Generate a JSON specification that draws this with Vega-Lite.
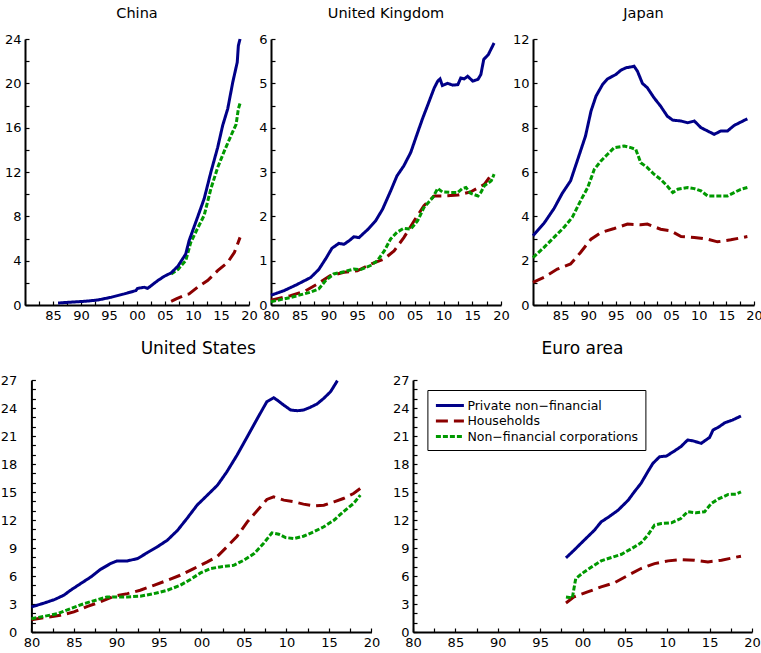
{
  "$schema": "https://vega.github.io/schema/vega-lite/v6.json",
  "padding": {"left": 0, "top": 6, "right": 0, "bottom": 0},
  "config": {
    "view": {"stroke": null},
    "font": "DejaVu Sans",
    "axis": {"domainColor": "#000", "domainWidth": 2, "tickColor": "#000", "tickWidth": 1.2, "tickSize": -4, "labelPadding": 8, "labelFont": "DejaVu Sans", "labelFontSize": 13, "labelColor": "#000", "grid": false, "title": null, "labelOverlap": false, "labelFlush": false, "labelBound": false},
    "title": {"font": "DejaVu Sans", "fontWeight": "normal", "color": "#000", "frame": "group", "anchor": "middle", "baseline": "alphabetic"},
    "line": {"strokeWidth": 3, "clip": true}
  },
  "datasets": {
    "china": [
      {"s":"H","t":2006.1,"v":0.33},{"s":"H","t":2007,"v":0.55},{"s":"H","t":2008.7,"v":0.93},{"s":"H","t":2009.3,"v":1.0},{"s":"H","t":2010.8,"v":1.6},{"s":"H","t":2012.6,"v":2.2},{"s":"H","t":2014.4,"v":3.1},{"s":"H","t":2016.2,"v":3.85},{"s":"H","t":2017.4,"v":4.75},{"s":"H","t":2018.4,"v":6.1},
      {"s":"N","t":2006.1,"v":2.8},{"s":"N","t":2007.3,"v":3.2},{"s":"N","t":2008.7,"v":4.0},{"s":"N","t":2009.6,"v":5.65},{"s":"N","t":2010.8,"v":6.9},{"s":"N","t":2012,"v":8.1},{"s":"N","t":2013.2,"v":10.5},{"s":"N","t":2014.4,"v":12.4},{"s":"N","t":2015.6,"v":13.9},{"s":"N","t":2016.8,"v":15.3},{"s":"N","t":2017.7,"v":16.3},{"s":"N","t":2018.1,"v":17.7},{"s":"N","t":2018.4,"v":18.2},
      {"s":"P","t":1985.9,"v":0.18},{"s":"P","t":1988,"v":0.25},{"s":"P","t":1990.6,"v":0.33},{"s":"P","t":1993,"v":0.45},{"s":"P","t":1995.4,"v":0.7},{"s":"P","t":1997.7,"v":1.0},{"s":"P","t":1999.8,"v":1.3},{"s":"P","t":2000.1,"v":1.5},{"s":"P","t":2001.3,"v":1.6},{"s":"P","t":2001.9,"v":1.5},{"s":"P","t":2003.7,"v":2.2},{"s":"P","t":2004.9,"v":2.6},{"s":"P","t":2006.1,"v":2.9},{"s":"P","t":2007.3,"v":3.5},{"s":"P","t":2008.7,"v":4.6},{"s":"P","t":2009.3,"v":5.8},{"s":"P","t":2010.8,"v":7.9},{"s":"P","t":2012,"v":9.6},{"s":"P","t":2013.2,"v":12.0},{"s":"P","t":2014.4,"v":14.2},{"s":"P","t":2015.3,"v":16.2},{"s":"P","t":2016.2,"v":17.7},{"s":"P","t":2017.1,"v":20.1},{"s":"P","t":2017.9,"v":21.9},{"s":"P","t":2018.1,"v":23.4},{"s":"P","t":2018.4,"v":24.0}
    ],
    "uk": [
      {"s":"H","t":1980,"v":0.11},{"s":"H","t":1983.4,"v":0.21},{"s":"H","t":1986,"v":0.32},{"s":"H","t":1988,"v":0.47},{"s":"H","t":1990.3,"v":0.66},{"s":"H","t":1992.7,"v":0.74},{"s":"H","t":1995,"v":0.77},{"s":"H","t":1997.3,"v":0.92},{"s":"H","t":1999.7,"v":1.04},{"s":"H","t":2001.4,"v":1.22},{"s":"H","t":2003.1,"v":1.52},{"s":"H","t":2004.9,"v":1.9},{"s":"H","t":2006.6,"v":2.24},{"s":"H","t":2008.4,"v":2.46},{"s":"H","t":2010.1,"v":2.46},{"s":"H","t":2012.5,"v":2.48},{"s":"H","t":2014.7,"v":2.55},{"s":"H","t":2017.1,"v":2.72},{"s":"H","t":2018.6,"v":2.99},
      {"s":"N","t":1980,"v":0.075},{"s":"N","t":1983.4,"v":0.17},{"s":"N","t":1986.9,"v":0.29},{"s":"N","t":1988.3,"v":0.36},{"s":"N","t":1989.5,"v":0.55},{"s":"N","t":1990.9,"v":0.7},{"s":"N","t":1992.7,"v":0.75},{"s":"N","t":1994.4,"v":0.81},{"s":"N","t":1995.6,"v":0.8},{"s":"N","t":1997.3,"v":0.89},{"s":"N","t":1998.5,"v":1.0},{"s":"N","t":1999.7,"v":1.22},{"s":"N","t":2000.8,"v":1.49},{"s":"N","t":2001.9,"v":1.64},{"s":"N","t":2003.1,"v":1.73},{"s":"N","t":2004.3,"v":1.71},{"s":"N","t":2005.5,"v":1.9},{"s":"N","t":2006.6,"v":2.2},{"s":"N","t":2008.1,"v":2.42},{"s":"N","t":2009,"v":2.63},{"s":"N","t":2009.8,"v":2.55},{"s":"N","t":2011.3,"v":2.54},{"s":"N","t":2012.5,"v":2.54},{"s":"N","t":2013.3,"v":2.63},{"s":"N","t":2013.9,"v":2.65},{"s":"N","t":2014.7,"v":2.52},{"s":"N","t":2016,"v":2.46},{"s":"N","t":2016.5,"v":2.54},{"s":"N","t":2017.1,"v":2.69},{"s":"N","t":2018.3,"v":2.8},{"s":"N","t":2018.8,"v":2.95},
      {"s":"P","t":1980,"v":0.22},{"s":"P","t":1982.2,"v":0.32},{"s":"P","t":1984.5,"v":0.46},{"s":"P","t":1986.9,"v":0.62},{"s":"P","t":1988.3,"v":0.8},{"s":"P","t":1989.5,"v":1.04},{"s":"P","t":1990.6,"v":1.28},{"s":"P","t":1991.8,"v":1.39},{"s":"P","t":1992.7,"v":1.37},{"s":"P","t":1993.8,"v":1.47},{"s":"P","t":1994.4,"v":1.54},{"s":"P","t":1995.3,"v":1.52},{"s":"P","t":1996.8,"v":1.7},{"s":"P","t":1998.2,"v":1.9},{"s":"P","t":1999.4,"v":2.16},{"s":"P","t":2000.8,"v":2.57},{"s":"P","t":2001.9,"v":2.91},{"s":"P","t":2003.1,"v":3.14},{"s":"P","t":2004.3,"v":3.44},{"s":"P","t":2005.5,"v":3.89},{"s":"P","t":2006.4,"v":4.22},{"s":"P","t":2007.2,"v":4.49},{"s":"P","t":2008.4,"v":4.9},{"s":"P","t":2009,"v":5.05},{"s":"P","t":2009.4,"v":5.1},{"s":"P","t":2009.8,"v":4.95},{"s":"P","t":2010.7,"v":5.0},{"s":"P","t":2011.6,"v":4.96},{"s":"P","t":2012.5,"v":4.97},{"s":"P","t":2013,"v":5.12},{"s":"P","t":2013.6,"v":5.1},{"s":"P","t":2014.2,"v":5.16},{"s":"P","t":2015.1,"v":5.05},{"s":"P","t":2016,"v":5.09},{"s":"P","t":2016.5,"v":5.2},{"s":"P","t":2017,"v":5.54},{"s":"P","t":2017.8,"v":5.65},{"s":"P","t":2018.8,"v":5.91}
    ],
    "japan": [
      {"s":"H","t":1980,"v":1.02},{"s":"H","t":1982,"v":1.25},{"s":"H","t":1984.4,"v":1.62},{"s":"H","t":1986.8,"v":1.85},{"s":"H","t":1988.6,"v":2.37},{"s":"H","t":1990.5,"v":2.97},{"s":"H","t":1992.3,"v":3.27},{"s":"H","t":1994.7,"v":3.45},{"s":"H","t":1997.1,"v":3.65},{"s":"H","t":1999.5,"v":3.62},{"s":"H","t":2000.7,"v":3.65},{"s":"H","t":2003.1,"v":3.42},{"s":"H","t":2004.9,"v":3.35},{"s":"H","t":2006.8,"v":3.09},{"s":"H","t":2009.2,"v":3.05},{"s":"H","t":2011.6,"v":2.97},{"s":"H","t":2013.4,"v":2.85},{"s":"H","t":2015.8,"v":2.94},{"s":"H","t":2018.8,"v":3.09},
      {"s":"N","t":1980,"v":2.14},{"s":"N","t":1982,"v":2.6},{"s":"N","t":1983.8,"v":3.05},{"s":"N","t":1985.6,"v":3.5},{"s":"N","t":1987.1,"v":3.95},{"s":"N","t":1988.6,"v":4.7},{"s":"N","t":1989.9,"v":5.3},{"s":"N","t":1991.1,"v":6.12},{"s":"N","t":1992.3,"v":6.5},{"s":"N","t":1993.5,"v":6.8},{"s":"N","t":1994.7,"v":7.1},{"s":"N","t":1996.5,"v":7.17},{"s":"N","t":1997.7,"v":7.1},{"s":"N","t":1998.6,"v":7.02},{"s":"N","t":1999.5,"v":6.42},{"s":"N","t":2000.7,"v":6.2},{"s":"N","t":2001.9,"v":5.9},{"s":"N","t":2003.1,"v":5.67},{"s":"N","t":2004.3,"v":5.37},{"s":"N","t":2005.3,"v":5.07},{"s":"N","t":2006.2,"v":5.22},{"s":"N","t":2008,"v":5.3},{"s":"N","t":2009.2,"v":5.25},{"s":"N","t":2010.4,"v":5.15},{"s":"N","t":2011.6,"v":4.92},{"s":"N","t":2013.4,"v":4.92},{"s":"N","t":2015.2,"v":4.92},{"s":"N","t":2016.4,"v":5.07},{"s":"N","t":2017.6,"v":5.22},{"s":"N","t":2018.8,"v":5.3},
      {"s":"P","t":1980,"v":3.12},{"s":"P","t":1982,"v":3.69},{"s":"P","t":1983.8,"v":4.35},{"s":"P","t":1985.3,"v":5.04},{"s":"P","t":1986.8,"v":5.6},{"s":"P","t":1988.3,"v":6.72},{"s":"P","t":1989.5,"v":7.62},{"s":"P","t":1990.5,"v":8.75},{"s":"P","t":1991.4,"v":9.42},{"s":"P","t":1992.6,"v":9.95},{"s":"P","t":1993.5,"v":10.2},{"s":"P","t":1995,"v":10.4},{"s":"P","t":1995.9,"v":10.59},{"s":"P","t":1996.8,"v":10.7},{"s":"P","t":1997.7,"v":10.74},{"s":"P","t":1998.3,"v":10.77},{"s":"P","t":1998.9,"v":10.55},{"s":"P","t":1999.8,"v":10.0},{"s":"P","t":2000.7,"v":9.8},{"s":"P","t":2001.9,"v":9.35},{"s":"P","t":2003.1,"v":8.97},{"s":"P","t":2004.3,"v":8.52},{"s":"P","t":2005.3,"v":8.34},{"s":"P","t":2006.8,"v":8.3},{"s":"P","t":2008,"v":8.22},{"s":"P","t":2009.2,"v":8.3},{"s":"P","t":2010.4,"v":8.0},{"s":"P","t":2011.6,"v":7.85},{"s":"P","t":2012.8,"v":7.7},{"s":"P","t":2014,"v":7.85},{"s":"P","t":2015.2,"v":7.85},{"s":"P","t":2016.4,"v":8.1},{"s":"P","t":2017.6,"v":8.25},{"s":"P","t":2018.8,"v":8.4}
    ],
    "us": [
      {"s":"H","t":1980,"v":1.32},{"s":"H","t":1981.5,"v":1.54},{"s":"H","t":1983.4,"v":1.79},{"s":"H","t":1985,"v":2.15},{"s":"H","t":1986.6,"v":2.75},{"s":"H","t":1988.1,"v":3.22},{"s":"H","t":1989.7,"v":3.83},{"s":"H","t":1991.3,"v":4.11},{"s":"H","t":1992.8,"v":4.47},{"s":"H","t":1994.4,"v":5.0},{"s":"H","t":1996,"v":5.54},{"s":"H","t":1997.5,"v":6.08},{"s":"H","t":1999.1,"v":6.8},{"s":"H","t":2000.7,"v":7.51},{"s":"H","t":2001.9,"v":8.12},{"s":"H","t":2003,"v":9.12},{"s":"H","t":2004.2,"v":10.26},{"s":"H","t":2005.4,"v":11.8},{"s":"H","t":2006.6,"v":13.05},{"s":"H","t":2007.7,"v":14.2},{"s":"H","t":2008.5,"v":14.48},{"s":"H","t":2009.7,"v":14.13},{"s":"H","t":2010.9,"v":13.95},{"s":"H","t":2012,"v":13.7},{"s":"H","t":2013.2,"v":13.52},{"s":"H","t":2014.4,"v":13.59},{"s":"H","t":2015.6,"v":13.95},{"s":"H","t":2016.7,"v":14.3},{"s":"H","t":2017.9,"v":14.84},{"s":"H","t":2018.7,"v":15.38},
      {"s":"N","t":1980,"v":1.43},{"s":"N","t":1981.5,"v":1.68},{"s":"N","t":1983.1,"v":1.97},{"s":"N","t":1984.6,"v":2.5},{"s":"N","t":1986.2,"v":3.04},{"s":"N","t":1987.8,"v":3.47},{"s":"N","t":1988.9,"v":3.76},{"s":"N","t":1990.1,"v":3.76},{"s":"N","t":1991.3,"v":3.76},{"s":"N","t":1992.8,"v":3.83},{"s":"N","t":1994.4,"v":4.11},{"s":"N","t":1996,"v":4.47},{"s":"N","t":1997.5,"v":5.0},{"s":"N","t":1998.7,"v":5.62},{"s":"N","t":1999.9,"v":6.33},{"s":"N","t":2001.1,"v":6.8},{"s":"N","t":2002.2,"v":6.97},{"s":"N","t":2003.8,"v":7.15},{"s":"N","t":2005,"v":7.69},{"s":"N","t":2006.2,"v":8.4},{"s":"N","t":2007.3,"v":9.48},{"s":"N","t":2008.3,"v":10.62},{"s":"N","t":2009.1,"v":10.48},{"s":"N","t":2009.9,"v":10.12},{"s":"N","t":2010.9,"v":10.01},{"s":"N","t":2012,"v":10.26},{"s":"N","t":2013.2,"v":10.73},{"s":"N","t":2014.4,"v":11.27},{"s":"N","t":2015.6,"v":11.98},{"s":"N","t":2016.7,"v":12.88},{"s":"N","t":2017.9,"v":13.77},{"s":"N","t":2018.7,"v":14.66},
      {"s":"P","t":1980,"v":2.68},{"s":"P","t":1981.5,"v":3.1},{"s":"P","t":1982.7,"v":3.47},{"s":"P","t":1983.8,"v":3.93},{"s":"P","t":1984.6,"v":4.47},{"s":"P","t":1985.8,"v":5.19},{"s":"P","t":1987,"v":5.9},{"s":"P","t":1988.1,"v":6.69},{"s":"P","t":1989.3,"v":7.33},{"s":"P","t":1990.1,"v":7.62},{"s":"P","t":1991.3,"v":7.62},{"s":"P","t":1992.5,"v":7.87},{"s":"P","t":1993.6,"v":8.48},{"s":"P","t":1994.8,"v":9.12},{"s":"P","t":1996,"v":9.84},{"s":"P","t":1997.2,"v":10.9},{"s":"P","t":1998.3,"v":12.16},{"s":"P","t":1999.5,"v":13.6},{"s":"P","t":2000.7,"v":14.66},{"s":"P","t":2001.9,"v":15.74},{"s":"P","t":2003,"v":17.17},{"s":"P","t":2004.2,"v":18.96},{"s":"P","t":2005.4,"v":20.92},{"s":"P","t":2006.6,"v":22.9},{"s":"P","t":2007.7,"v":24.68},{"s":"P","t":2008.5,"v":25.1},{"s":"P","t":2008.9,"v":24.86},{"s":"P","t":2009.7,"v":24.3},{"s":"P","t":2010.5,"v":23.78},{"s":"P","t":2011.3,"v":23.71},{"s":"P","t":2012,"v":23.78},{"s":"P","t":2012.8,"v":24.07},{"s":"P","t":2013.6,"v":24.43},{"s":"P","t":2014.4,"v":25.04},{"s":"P","t":2015.2,"v":25.75},{"s":"P","t":2016,"v":26.93}
    ],
    "euro": [
      {"s":"H","t":1998.05,"v":3.11},{"s":"H","t":1999,"v":3.76},{"s":"H","t":2000.6,"v":4.29},{"s":"H","t":2002.2,"v":4.83},{"s":"H","t":2003.8,"v":5.29},{"s":"H","t":2005.4,"v":6.08},{"s":"H","t":2006.9,"v":6.8},{"s":"H","t":2008.5,"v":7.33},{"s":"H","t":2010.1,"v":7.62},{"s":"H","t":2011.6,"v":7.76},{"s":"H","t":2013.2,"v":7.69},{"s":"H","t":2014.8,"v":7.51},{"s":"H","t":2016.4,"v":7.69},{"s":"H","t":2017.9,"v":7.98},{"s":"H","t":2018.7,"v":8.12},
      {"s":"N","t":1998.05,"v":3.76},{"s":"N","t":1998.8,"v":3.65},{"s":"N","t":1999.2,"v":5.72},{"s":"N","t":2000.2,"v":6.44},{"s":"N","t":2001.4,"v":7.15},{"s":"N","t":2002.2,"v":7.62},{"s":"N","t":2003.4,"v":7.98},{"s":"N","t":2004.6,"v":8.33},{"s":"N","t":2005.8,"v":8.94},{"s":"N","t":2006.9,"v":9.55},{"s":"N","t":2007.7,"v":10.37},{"s":"N","t":2008.5,"v":11.45},{"s":"N","t":2009.3,"v":11.62},{"s":"N","t":2010.5,"v":11.7},{"s":"N","t":2011.6,"v":12.16},{"s":"N","t":2012.4,"v":12.88},{"s":"N","t":2013.4,"v":12.77},{"s":"N","t":2014.4,"v":12.88},{"s":"N","t":2015.2,"v":13.77},{"s":"N","t":2016,"v":14.23},{"s":"N","t":2017.2,"v":14.74},{"s":"N","t":2018.1,"v":14.77},{"s":"N","t":2018.7,"v":15.02},
      {"s":"P","t":1998.05,"v":7.94},{"s":"P","t":1999,"v":8.76},{"s":"P","t":2000.2,"v":9.84},{"s":"P","t":2001.4,"v":10.9},{"s":"P","t":2002.2,"v":11.8},{"s":"P","t":2003,"v":12.27},{"s":"P","t":2004.2,"v":13.05},{"s":"P","t":2005.4,"v":14.13},{"s":"P","t":2006.1,"v":15.0},{"s":"P","t":2006.9,"v":15.92},{"s":"P","t":2007.7,"v":17.17},{"s":"P","t":2008.3,"v":18.06},{"s":"P","t":2009.1,"v":18.78},{"s":"P","t":2009.9,"v":18.85},{"s":"P","t":2010.7,"v":19.31},{"s":"P","t":2011.6,"v":19.85},{"s":"P","t":2012.4,"v":20.57},{"s":"P","t":2013,"v":20.49},{"s":"P","t":2014,"v":20.21},{"s":"P","t":2015,"v":20.85},{"s":"P","t":2015.4,"v":21.64},{"s":"P","t":2016,"v":21.92},{"s":"P","t":2016.8,"v":22.42},{"s":"P","t":2017.7,"v":22.71},{"s":"P","t":2018.7,"v":23.14}
    ]
  },
  "resolve": {"scale": {"color": "independent", "strokeDash": "independent"}, "legend": {"color": "independent", "strokeDash": "independent"}},
  "spacing": 18,
  "vconcat": [
    {
      "spacing": 0,
      "resolve": {"scale": {"color": "independent", "strokeDash": "independent"}, "legend": {"color": "independent", "strokeDash": "independent"}},
      "hconcat": [
        {
          "title": {"text": "China", "fontSize": 14.5, "offset": 11.5},
          "width": 224, "height": 266,
          "data": {"name": "china"},
          "mark": {"type": "line"},
          "encoding": {
            "x": {"field": "t", "type": "quantitative", "scale": {"domain": [1980, 2020], "nice": false, "zero": false},
              "axis": {"values": [1980,1982.5,1985,1987.5,1990,1992.5,1995,1997.5,2000,2002.5,2005,2007.5,2010,2012.5,2015,2017.5,2020],
                "labelExpr": "datum.value % 5 === 0 && datum.value > 1980 ? format(datum.value % 100, '02d') : ''"}},
            "y": {"field": "v", "type": "quantitative", "scale": {"domain": [0, 24], "nice": false},
              "axis": {"values": [0,2,4,6,8,10,12,14,16,18,20,22,24], "labelExpr": "datum.value % 4 === 0 ? format(datum.value, 'd') : ''", "minExtent": 24.3}},
            "color": {"field": "s", "type": "nominal", "scale": {"domain": ["P","H","N"], "range": ["#000088","#8b0000","#009900"]}, "legend": null},
            "strokeDash": {"field": "s", "type": "nominal", "scale": {"domain": ["P","H","N"], "range": [[1,0],[12,6],[5,2]]}, "legend": null}
          }
        },
        {
          "title": {"text": "United Kingdom", "fontSize": 14.5, "offset": 11.5},
          "width": 230, "height": 266,
          "data": {"name": "uk"},
          "mark": {"type": "line"},
          "encoding": {
            "x": {"field": "t", "type": "quantitative", "scale": {"domain": [1980, 2020], "nice": false, "zero": false},
              "axis": {"values": [1980,1982.5,1985,1987.5,1990,1992.5,1995,1997.5,2000,2002.5,2005,2007.5,2010,2012.5,2015,2017.5,2020],
                "labelExpr": "datum.value % 5 === 0 ? format(datum.value % 100, '02d') : ''",
                "encode": {"labels": {"update": {"align": {"signal": "datum.value === 1980 ? 'left' : 'center'"}}}}}},
            "y": {"field": "v", "type": "quantitative", "scale": {"domain": [0, 6], "nice": false},
              "axis": {"values": [0,0.5,1,1.5,2,2.5,3,3.5,4,4.5,5,5.5,6], "labelExpr": "datum.value % 1 === 0 ? format(datum.value, 'd') : ''", "minExtent": 13}},
            "color": {"field": "s", "type": "nominal", "scale": {"domain": ["P","H","N"], "range": ["#000088","#8b0000","#009900"]}, "legend": null},
            "strokeDash": {"field": "s", "type": "nominal", "scale": {"domain": ["P","H","N"], "range": [[1,0],[12,6],[5,2]]}, "legend": null}
          }
        },
        {
          "title": {"text": "Japan", "fontSize": 14.5, "offset": 11.5},
          "width": 221, "height": 266,
          "data": {"name": "japan"},
          "mark": {"type": "line"},
          "encoding": {
            "x": {"field": "t", "type": "quantitative", "scale": {"domain": [1980, 2020], "nice": false, "zero": false},
              "axis": {"values": [1980,1982.5,1985,1987.5,1990,1992.5,1995,1997.5,2000,2002.5,2005,2007.5,2010,2012.5,2015,2017.5,2020],
                "labelExpr": "datum.value % 5 === 0 && datum.value > 1980 ? format(datum.value % 100, '02d') : ''"}},
            "y": {"field": "v", "type": "quantitative", "scale": {"domain": [0, 12], "nice": false},
              "axis": {"values": [0,1,2,3,4,5,6,7,8,9,10,11,12], "labelExpr": "datum.value % 2 === 0 ? format(datum.value, 'd') : ''", "minExtent": 22.5}},
            "color": {"field": "s", "type": "nominal", "scale": {"domain": ["P","H","N"], "range": ["#000088","#8b0000","#009900"]}, "legend": null},
            "strokeDash": {"field": "s", "type": "nominal", "scale": {"domain": ["P","H","N"], "range": [[1,0],[12,6],[5,2]]}, "legend": null}
          }
        }
      ]
    },
    {
      "spacing": 0,
      "resolve": {"scale": {"color": "independent", "strokeDash": "independent"}, "legend": {"color": "independent", "strokeDash": "independent"}},
      "hconcat": [
        {
          "title": {"text": "United States", "fontSize": 17, "offset": 16},
          "width": 346.4, "height": 252,
          "data": {"name": "us"},
          "mark": {"type": "line"},
          "encoding": {
            "x": {"field": "t", "type": "quantitative", "scale": {"domain": [1980, 2020], "range": [6.4, 346.4], "nice": false, "zero": false},
              "axis": {"values": [1980,1982.5,1985,1987.5,1990,1992.5,1995,1997.5,2000,2002.5,2005,2007.5,2010,2012.5,2015,2017.5,2020],
                "labelExpr": "datum.value % 5 === 0 ? format(datum.value % 100, '02d') : ''",
                "encode": {"labels": {"update": {"align": {"signal": "datum.value === 1980 ? 'left' : 'center'"}}}}}},
            "y": {"field": "v", "type": "quantitative", "scale": {"domain": [0, 27], "nice": false},
              "axis": {"values": [0,1,2,3,4,5,6,7,8,9,10,11,12,13,14,15,16,17,18,19,20,21,22,23,24,25,26,27], "labelExpr": "datum.value % 3 === 0 ? format(datum.value, 'd') : ''", "minExtent": 0, "offset": -6.4, "labelPadding": 18.5,
                "encode": {"labels": {"update": {"dx": {"signal": "datum.value === 0 ? 10 : 0"}}}}}},
            "color": {"field": "s", "type": "nominal", "scale": {"domain": ["P","H","N"], "range": ["#000088","#8b0000","#009900"]}, "legend": null},
            "strokeDash": {"field": "s", "type": "nominal", "scale": {"domain": ["P","H","N"], "range": [[1,0],[12,6],[5,2]]}, "legend": null}
          }
        },
        {
          "title": {"text": "Euro area", "fontSize": 17, "offset": 16},
          "width": 339, "height": 252,
          "data": {"name": "euro"},
          "mark": {"type": "line"},
          "encoding": {
            "x": {"field": "t", "type": "quantitative", "scale": {"domain": [1980, 2020], "nice": false, "zero": false},
              "axis": {"values": [1980,1982.5,1985,1987.5,1990,1992.5,1995,1997.5,2000,2002.5,2005,2007.5,2010,2012.5,2015,2017.5,2020],
                "labelExpr": "datum.value % 5 === 0 ? format(datum.value % 100, '02d') : ''",
                "encode": {"labels": {"update": {"align": {"signal": "datum.value === 1980 ? 'left' : 'center'"}}}}}},
            "y": {"field": "v", "type": "quantitative", "scale": {"domain": [0, 27], "nice": false},
              "axis": {"values": [0,1,2,3,4,5,6,7,8,9,10,11,12,13,14,15,16,17,18,19,20,21,22,23,24,25,26,27], "labelExpr": "datum.value % 3 === 0 ? format(datum.value, 'd') : ''", "minExtent": 32.7}},
            "color": {"field": "s", "type": "nominal", "scale": {"domain": ["P","H","N"], "range": ["#000088","#8b0000","#009900"]},
              "legend": {"orient": "none", "legendX": 14.4, "legendY": 10, "title": null, "symbolType": "M-1,0H3", "symbolSize": 196, "symbolStrokeWidth": 3, "labelFont": "DejaVu Sans", "labelFontSize": 12.5, "labelColor": "#000", "labelLimit": 300, "labelOffset": 16, "padding": 7, "rowPadding": 0.5, "fillColor": "#fff", "strokeColor": "#000", "cornerRadius": 0,
                "labelExpr": "datum.value === 'P' ? 'Private non−financial' : datum.value === 'H' ? 'Households' : 'Non−financial corporations'"}},
            "strokeDash": {"field": "s", "type": "nominal", "scale": {"domain": ["P","H","N"], "range": [[1,0],[12,6],[5,2]]},
              "legend": {"orient": "none", "legendX": 14.4, "legendY": 10, "title": null, "symbolType": "M-1,0H3", "symbolSize": 196, "symbolStrokeWidth": 3, "labelFont": "DejaVu Sans", "labelFontSize": 12.5, "labelColor": "#000", "labelLimit": 300, "labelOffset": 16, "padding": 7, "rowPadding": 0.5, "fillColor": "#fff", "strokeColor": "#000", "cornerRadius": 0,
                "labelExpr": "datum.value === 'P' ? 'Private non−financial' : datum.value === 'H' ? 'Households' : 'Non−financial corporations'"}}
          }
        }
      ]
    }
  ]
}
